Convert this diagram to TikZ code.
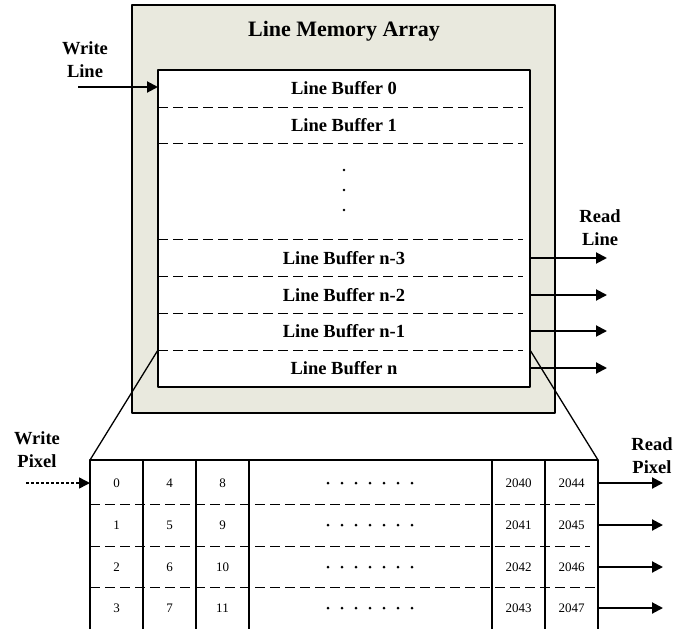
\documentclass[tikz,border=0pt]{standalone}
\usepackage{fontspec}
\setmainfont{Liberation Serif}
\usepackage{tikz}
\usetikzlibrary{calc,arrows.meta}
\definecolor{arraygray}{RGB}{233,233,222}

\tikzset{
	lbl/.style={font=\bfseries\fontsize{18.5}{23}\selectfont, align=center, inner sep=0pt},
	ttl/.style={font=\bfseries\fontsize{22}{26}\selectfont, inner sep=0pt},
	num/.style={font=\fontsize{13}{15}\selectfont, inner sep=0pt},
	arr/.style={line width=2pt, -{Triangle[length=11pt,width=11pt]}},
	sep/.style={line width=1pt, dash pattern=on 10pt off 5pt},
}

\begin{document}
\begin{tikzpicture}[x=1pt, y=-1pt, line join=round]
	
	% --- 1. 画布与核心坐标 ---
	\useasboundingbox (0,0) rectangle (685,629);
	\coordinate (OA) at (132,5);   % 外框左上
	\coordinate (OB) at (555,413); % 外框右下
	\coordinate (IA) at (158,70);  % 缓冲区左上
	\coordinate (IB) at (530,387); % 缓冲区右下
	
	% --- 2. 行存储阵列 ---
	\draw[line width=1.8pt, fill=arraygray] (OA) rectangle (OB);
	\draw[line width=1.8pt, fill=white] (IA) rectangle (IB);
	\node[ttl] (title) at (344,31) {Line Memory Array};
	
	% 分隔虚线
	\foreach \y in {107,143,239,276,313,350}
		\draw[sep] (158,\y) -- (523,\y);
	
	% 各行缓冲区
	\node[lbl] (lb0) at (344,88) {Line Buffer 0};
	\node[lbl] (lb1) at (344,125) {Line Buffer 1};
	\node[lbl] (lbn3) at (344,258) {Line Buffer n-3};
	\node[lbl] (lbn2) at (344,295) {Line Buffer n-2};
	\node[lbl] (lbn1) at (344,331) {Line Buffer n-1};
	\node[lbl] (lbn) at (344,368) {Line Buffer n};
	\foreach \y in {170,190,210}
		\fill (344,\y) circle (1.3pt);
	
	% --- 3. 读写行箭头 ---
	\node[lbl] (wline) at (85,60) {Write\\Line};
	\coordinate (win) at (78,87);
	\draw[arr] (win) -- (IA |- win);
	
	\node[lbl] (rline) at (600,228) {Read\\Line};
	\coordinate (rl) at (607,0);
	\foreach \b in {lbn3,lbn2,lbn1,lbn}
		\draw[arr] (IB |- \b) -- (rl |- \b);
	
	% --- 4. 放大连线 ---
	% 从最后一行缓冲区引出到像素表
	\coordinate (SL) at (158,350);
	\coordinate (SR) at (530,350);
	\coordinate (TL) at (90,460);
	\coordinate (TR) at (598,460);
	\draw[line width=1.3pt] (SL) -- (TL);
	\draw[line width=1.3pt] (SR) -- (TR);
	
	% --- 5. 像素表 ---
	\draw[line width=2pt] (90,629) -- (TL) -- (TR) -- (598,629);
	\foreach \x in {143,196,249,492,545}
		\draw[line width=1.2pt] (\x,460) -- (\x,629);
	\draw[sep] (90,504) -- (598,504);
	\draw[sep] (90,546) -- (590,546);
	\draw[sep] (90,587) -- (598,587);
	
	% 单元格数字
	\foreach \r/\y in {0/483,1/525,2/567,3/608} {
		\foreach \c/\x in {0/116.5,1/169.5,2/222.5} {
			\pgfmathtruncatemacro{\v}{4*\c+\r}
			\node[num] (p\c\r) at (\x,\y) {\v};
		}
		\pgfmathtruncatemacro{\va}{2040+\r}
		\pgfmathtruncatemacro{\vb}{2044+\r}
		\node[num] (pa\r) at (518.5,\y) {\va};
		\node[num] (pb\r) at (571.5,\y) {\vb};
		\foreach \k in {0,...,6}
			\fill (328+14*\k,\y) circle (1.5pt);
	}
	
	% --- 6. 读写像素箭头 ---
	\node[lbl] (wpix) at (37,450) {Write\\Pixel};
	\node[lbl] (rpix) at (652,456) {Read\\Pixel};
	\coordinate (wp) at (26,483);
	\draw[arr, line width=1.5pt, dash pattern=on 3pt off 2pt] (wp) -- (TL |- wp);
	\coordinate (rp) at (663,0);
	\foreach \r in {0,1,2,3}
		\draw[arr] (TR |- pb\r) -- (rp |- pb\r);
	
\end{tikzpicture}
\end{document}
